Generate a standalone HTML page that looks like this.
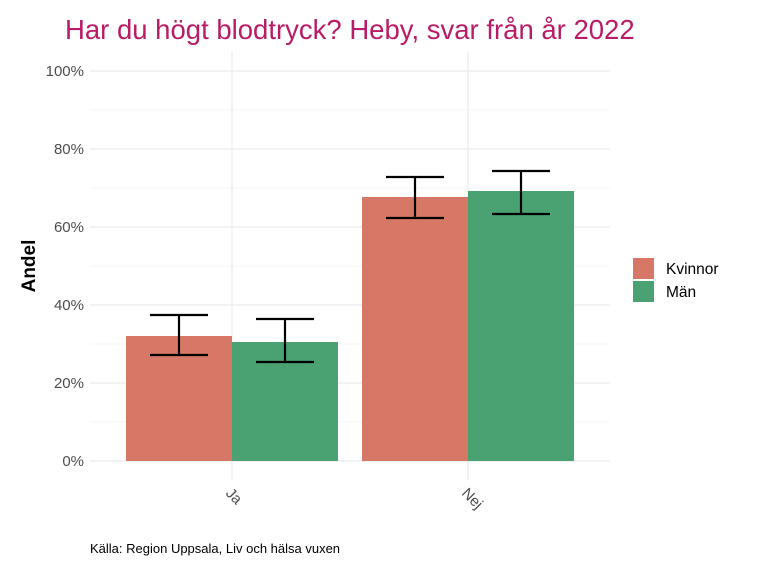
<!DOCTYPE html>
<html><head><meta charset="utf-8"><style>
body{margin:0;background:#fff;}
svg{display:block;font-family:"Liberation Sans",sans-serif;}
</style></head><body>
<svg width="768" height="576" viewBox="0 0 768 576">
<rect width="768" height="576" fill="#fff"/>
<text x="65" y="39" font-size="27.5" fill="#b81c66">Har du högt blodtryck? Heby, svar från år 2022</text>
<g stroke="#ebebeb" stroke-width="0.6">
<line x1="90" x2="610" y1="422" y2="422"/><line x1="90" x2="610" y1="344" y2="344"/>
<line x1="90" x2="610" y1="266" y2="266"/><line x1="90" x2="610" y1="188" y2="188"/>
<line x1="90" x2="610" y1="110" y2="110"/>
</g>
<g stroke="#ebebeb" stroke-width="1.2">
<line x1="90" x2="610" y1="461" y2="461"/><line x1="90" x2="610" y1="383" y2="383"/>
<line x1="90" x2="610" y1="305" y2="305"/><line x1="90" x2="610" y1="227" y2="227"/>
<line x1="90" x2="610" y1="149" y2="149"/><line x1="90" x2="610" y1="71" y2="71"/>
<line x1="232" x2="232" y1="52" y2="480"/><line x1="468" x2="468" y1="52" y2="480"/>
</g>
<g font-size="15" fill="#4d4d4d" text-anchor="end">
<text x="84" y="466">0%</text><text x="84" y="388">20%</text><text x="84" y="310">40%</text>
<text x="84" y="232">60%</text><text x="84" y="154">80%</text><text x="84" y="76">100%</text>
</g>
<rect x="126" y="336" width="106" height="125" fill="#d77766"/>
<rect x="232" y="342" width="106" height="119" fill="#4aa272"/>
<rect x="362" y="197" width="106" height="264" fill="#d77766"/>
<rect x="468" y="191" width="106" height="270" fill="#4aa272"/>
<g stroke="#000" stroke-width="2.2" fill="none">
<path d="M150 315H208M179 315V355M150 355H208"/>
<path d="M256 319H314M285 319V362M256 362H314"/>
<path d="M386 177H444M415 177V218M386 218H444"/>
<path d="M492 171H550M521 171V214M492 214H550"/>
</g>
<g font-size="15" fill="#4d4d4d">
<text transform="translate(225,494) rotate(45)">Ja</text>
<text transform="translate(461,494) rotate(45)">Nej</text>
</g>
<text transform="translate(35,266) rotate(-90)" font-size="19" font-weight="bold" text-anchor="middle">Andel</text>
<rect x="633" y="258" width="21" height="21" fill="#d77766"/>
<rect x="633" y="281" width="21" height="21" fill="#4aa272"/>
<g font-size="15.5" fill="#000"><text x="666" y="274">Kvinnor</text><text x="666" y="297">Män</text></g>
<text x="90" y="553" font-size="13" fill="#000">Källa: Region Uppsala, Liv och hälsa vuxen</text>
</svg>
</body></html>
